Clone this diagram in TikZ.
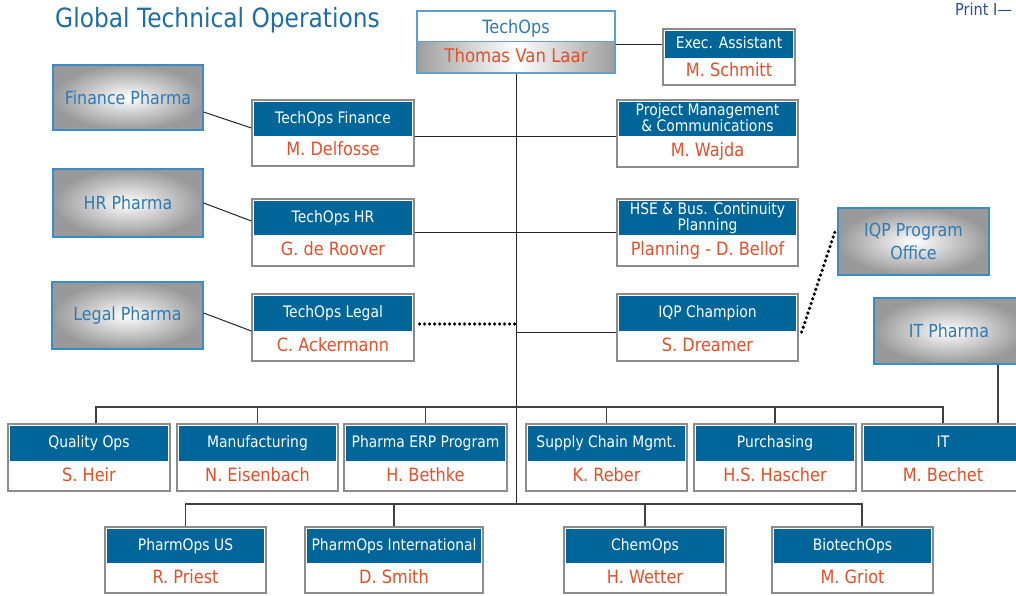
\documentclass[tikz,border=0pt]{standalone}
\usepackage{fontspec}
\setmainfont{DejaVu Sans}[FakeStretch=0.88]
\definecolor{hdrblue}{RGB}{0,102,153}
\definecolor{nameorange}{RGB}{226,80,42}
\definecolor{gbord}{RGB}{58,140,196}
\definecolor{gtext}{RGB}{46,122,178}
\definecolor{titleblue}{RGB}{28,110,164}
\definecolor{boxgray}{RGB}{140,140,140}
\definecolor{printblue}{RGB}{40,80,140}
\definecolor{topbord}{RGB}{95,160,205}
\tikzset{
  obox/.style={draw=boxgray, line width=1.3pt, fill=white, inner sep=0pt, rectangle},
  ohead/.style={fill=hdrblue, text=white, inner sep=0pt, text depth=3.5pt,
    font=\fontsize{15.8}{13.5}\selectfont, align=center},
  oname/.style={text=nameorange, inner sep=0pt, text height=13.5pt, text depth=3.5pt,
    font=\fontsize{18.3}{19}\selectfont},
  gbox/.style={draw=gbord, line width=1.3pt, inner color=white, outer color=black!40,
    text=gtext, font=\fontsize{18}{22.5}\selectfont, align=center, inner sep=0pt},
  link/.style={draw=black!85, line width=1pt},
  bus/.style={draw=black!75, line width=1.4pt},
  dots/.style={line width=3.6pt, line cap=round, dash pattern=on 0pt off 5pt},
}
\newcommand\orgbox[8]{%
  \node[obox, minimum width=#4, minimum height=#5] (#1) at ({#2+#4/2},{#3+#5/2}) {};
  \node[ohead, minimum width=#4-4, minimum height=#6] (#1-h) at ({#2+#4/2},{#3+2+#6/2}) {#7};
  \node[oname] (#1-n) at ({#2+#4/2},{#3+2+#6+(#5-2-#6)/2}) {#8};
}
\newcommand\gradbox[6]{%
  \node[gbox, minimum width=#4, minimum height=#5] (#1) at ({#2+#4/2},{#3+#5/2}) {#6};
}
\begin{document}
\begin{tikzpicture}[x=1pt, y=-1pt]
\useasboundingbox[fill=white] (0,0) rectangle (1016,596);

% title and print mark
\node[anchor=base west, text=titleblue, inner sep=0pt, font=\fontsize{26.5}{28}\selectfont] (title) at (55,28) {Global Technical Operations};
\node[anchor=base west, text=printblue, inner sep=0pt, font=\fontsize{16.5}{18}\selectfont] (print) at (955,16) {Print I—};

% trunk coordinates
\coordinate (b1) at (516,407);
\coordinate (b2) at (516,504);

% top box
\node[minimum width=198, minimum height=31, inner sep=0pt, left color=black!38, right color=black!38, middle color=white] (toplow) at (516,57.5) {};
\node[draw=topbord, line width=1.3pt, minimum width=198, minimum height=62, inner sep=0pt] (top) at (516,42) {};
\draw[topbord, line width=1.3pt] (toplow.north west) -- (toplow.north east);
\node[text=gtext, inner sep=0pt, font=\fontsize{18.3}{20}\selectfont] (top-t) at (516,28) {TechOps};
\node[oname, font=\fontsize{18.8}{20}\selectfont] (top-n) at (516,58) {Thomas Van Laar};

% boxes
\orgbox{ea}{663}{29}{132}{56}{27}{Exec. Assistant}{M. Schmitt}
\orgbox{fin}{252}{100}{162}{66}{34}{TechOps Finance}{M. Delfosse}
\orgbox{hr}{252}{199}{162}{67}{34}{TechOps HR}{G. de Roover}
\orgbox{legal}{252}{294}{162}{67}{35}{TechOps Legal}{C. Ackermann}
\orgbox{pm}{617}{100}{181}{67}{34}{Project Management\\\& Communications}{M. Wajda}
\orgbox{hse}{617}{199}{181}{67}{34}{HSE \& Bus. Continuity\\Planning}{Planning - D. Bellof}
\orgbox{iqpc}{617}{294}{181}{67}{35}{IQP Champion}{S. Dreamer}

\orgbox{qo}{8}{424}{162}{67}{35}{Quality Ops}{S. Heir}
\orgbox{mf}{177}{424}{161}{67}{35}{Manufacturing}{N. Eisenbach}
\orgbox{erp}{344}{424}{163}{67}{35}{Pharma ERP Program}{H. Bethke}
\orgbox{scm}{526}{424}{161}{67}{35}{Supply Chain Mgmt.}{K. Reber}
\orgbox{pur}{694}{424}{162}{67}{35}{Purchasing}{H.S. Hascher}
\orgbox{it}{862}{424}{162}{67}{35}{IT}{M. Bechet}

\orgbox{pus}{105}{527}{161}{66}{34}{PharmOps US}{R. Priest}
\orgbox{pint}{305}{527}{178}{66}{34}{PharmOps International}{D. Smith}
\orgbox{chem}{564}{527}{162}{66}{34}{ChemOps}{H. Wetter}
\orgbox{bio}{772}{527}{161}{66}{34}{BiotechOps}{M. Griot}

% gradient boxes
\gradbox{finP}{53}{65}{150}{65}{Finance Pharma}
\gradbox{hrP}{53}{169}{150}{68}{HR Pharma}
\gradbox{legP}{52}{282}{151}{67}{Legal Pharma}
\gradbox{iqpo}{838}{208}{151}{67}{IQP Program\\Office}
\gradbox{itP}{874}{298}{150}{66}{IT Pharma}

% connectors
\draw[link] (top.south) -- (b2);
\draw[link] ([yshift=-3pt]top.east) -- ([yshift=-3pt]top.east -| ea.west);
\draw[link] ([yshift=-14.5pt]finP.east) -- ([yshift=5pt]fin.west);
\draw[link] (hrP.east) -- ([yshift=11.5pt]hr.west);
\draw[link] ([yshift=2.5pt]legP.east) -- ([yshift=-3.5pt]legal.west);
\draw[link] ([yshift=-4pt]fin.east) -- ([yshift=-4pt]fin.east -| pm.west);
\draw[link] (hr.east) -- (hr.east -| hse.west);
\draw[link] ([yshift=-4.5pt]iqpc.west -| b1) -- ([yshift=-4.5pt]iqpc.west);
\draw[dots] ([xshift=5pt,yshift=3.5pt]legal.east) -- ([yshift=3.5pt]legal.east -| b1);
\draw[dots] ([xshift=3pt,yshift=-4.5pt]iqpc.east) -- ([xshift=-2pt,yshift=11pt]iqpo.west);

% bus 1
\draw[bus] ([xshift=7pt]qo.north) -- ([xshift=7pt]qo.north |- b1) -- (it.north |- b1) -- (it.north);
\foreach \n in {mf,erp,scm,pur} { \draw[bus] (\n.north) -- (\n.north |- b1); }
\draw[bus] ([xshift=49pt]itP.south) -- ([xshift=49pt]itP.south |- it.north);

% bus 2
\draw[bus] (pus.north) -- (pus.north |- b2) -- ([xshift=9.5pt]bio.north |- b2) -- ([xshift=9.5pt]bio.north);
\foreach \n in {pint,chem} { \draw[bus] (\n.north) -- (\n.north |- b2); }
\end{tikzpicture}
\end{document}
